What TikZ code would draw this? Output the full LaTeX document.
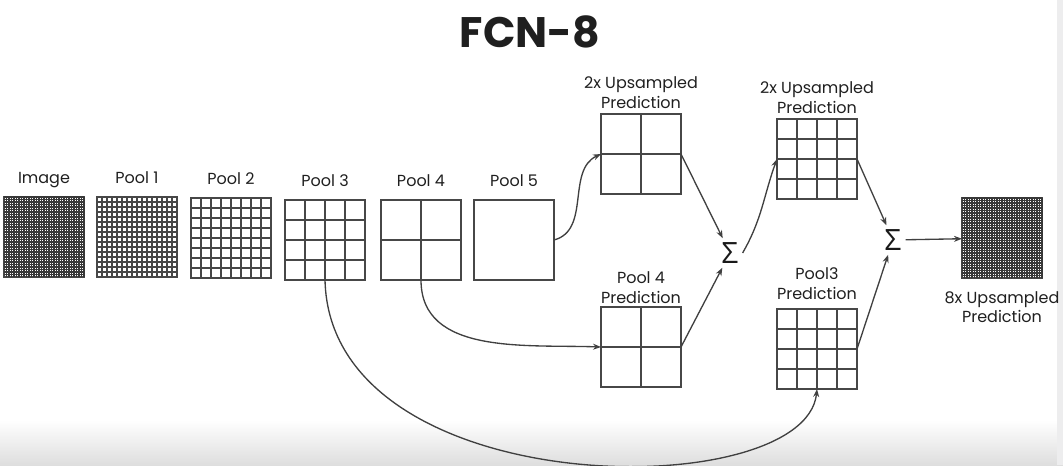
\documentclass[tikz,border=0pt]{standalone}
\usepackage{fontspec}
\setmainfont{Poppins}
\newfontfamily\sigmafont{Open Sans}
\usetikzlibrary{positioning,calc,arrows.meta}

\tikzset{
  fmap/.style={draw=black!72, line width=1.15pt, minimum size=60pt, inner sep=0pt, outer sep=0pt, fill=white},
  cell/.style={draw=black!72, line width=1.15pt},
  fine/.style={draw=black!78, line width=1.3pt},
  lbl/.style={font=\fontsize{12}{14.5}\selectfont, text=black!88, align=center, inner sep=2pt},
  rowlbl/.style={lbl, text depth=3pt},
  link/.style={->, draw=black!75, line width=1pt},
  summ/.style={font=\sigmafont\fontsize{22}{24}\selectfont, text=black!90, inner sep=3pt},
}

% lines of a grid of n x n cells inside a named box
\newcommand{\cells}[3][cell]{%
  \foreach \k in {1,...,#3}{%
    \draw[#1] ($(#2.south west)!\k/#3!(#2.south east)$) -- ($(#2.north west)!\k/#3!(#2.north east)$);
    \draw[#1] ($(#2.south west)!\k/#3!(#2.north west)$) -- ($(#2.south east)!\k/#3!(#2.north east)$);
  }}

\begin{document}
\begin{tikzpicture}[x=0.75pt,y=-0.75pt,>={Stealth[length=6pt,width=4.5pt]}]
  \useasboundingbox (0,0) rectangle (1063,465);
  % sfondo
  \shade[top color=white, bottom color=black!13] (0,420) rectangle (1063,465);
  \fill[blue!4!black!7] (1057,0) rectangle (1063,465);

  % titolo
  \node[font=\bfseries\fontsize{32}{34}\selectfont, text=black!88] (title) at (530,32) {FCN-8};

  % encoder
  \node[fmap] (img) at (44,237) {};
  \cells[fine]{img}{32}
  \node[fmap] (p1) at (137,237) {};
  \cells{p1}{16}
  \node[fmap] (p2) at (231,238) {};
  \cells{p2}{8}
  \node[fmap] (p3) at (325,240) {};
  \cells{p3}{4}
  \node[fmap] (p4) at (421,240) {};
  \cells{p4}{2}
  \node[fmap] (p5) at (514,240) {};

  \node[rowlbl, above=5pt of img] (imglbl) {Image};
  \node[rowlbl, above=5pt of p1] (p1lbl) {Pool 1};
  \node[rowlbl, above=5pt of p2] (p2lbl) {Pool 2};
  \node[rowlbl, above=5pt of p3] (p3lbl) {Pool 3};
  \node[rowlbl, above=5pt of p4] (p4lbl) {Pool 4};
  \node[rowlbl, above=5pt of p5] (p5lbl) {Pool 5};

  % predizioni
  \node[fmap] (up1) at (641,154) {};
  \cells{up1}{2}
  \node[fmap] (pp4) at (641,347) {};
  \cells{pp4}{2}
  \node[fmap] (up2) at (817,159) {};
  \cells{up2}{4}
  \node[fmap] (pp3) at (817,349) {};
  \cells{pp3}{4}
  \node[fmap] (up8) at (1002,238) {};
  \cells[fine]{up8}{32}

  \node[lbl, above=2pt of up1] (up1lbl) {2x Upsampled\\Prediction};
  \node[lbl, above=0.5pt of pp4] (pp4lbl) {Pool 4\\Prediction};
  \node[lbl, above=2pt of up2] (up2lbl) {2x Upsampled\\Prediction};
  \node[lbl, above=5pt of pp3] (pp3lbl) {Pool3\\Prediction};
  \node[lbl, below=8pt of up8] (up8lbl) {8x Upsampled\\Prediction};

  % somme
  \node[summ] (s1) at (730,253) {Σ};
  \node[summ] (s2) at (893,240) {Σ};

  % frecce
  \draw[link] (p5.east) to[out=15,in=205] (up1.west);
  \draw[link] (up1.east) -- (s1);
  \draw[link] (pp4.east) -- (s1);
  \draw[link] (s1.east) to[out=60,in=250] (up2.west);
  \draw[link] (up2.east) -- (s2);
  \draw[link] (pp3.east) -- (s2);
  \draw[link] (s2) -- (up8);
  \draw[link] (p4.south) to[out=-90,in=178] (pp4.west);
  \draw[link] (p3.south) .. controls (330,505) and (805,505) .. (pp3.south);
\end{tikzpicture}
\end{document}
